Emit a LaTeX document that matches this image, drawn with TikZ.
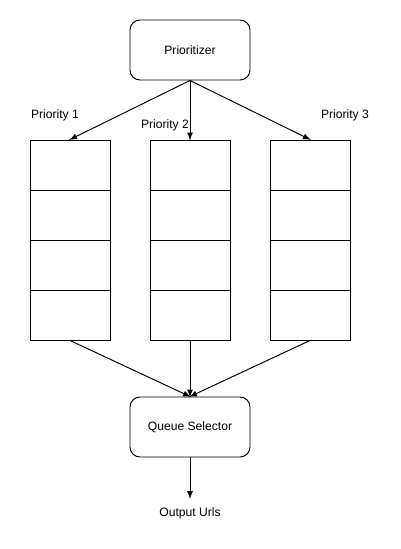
\documentclass[tikz,border=0pt]{standalone}
\usepackage{fontspec}
\setmainfont{Liberation Sans}
\usetikzlibrary{arrows}
\usetikzlibrary{positioning}

\begin{document}
\begin{tikzpicture}[
  > = latex,
  line width=0.55pt,
  every node/.style = {font=\fontsize{6.9}{8}\selectfont},
  roundbox/.style = {draw,rounded corners=0.2cm,minimum width=2.4cm,minimum height=1.2cm,inner sep=0pt},
  cell/.style = {draw,minimum width=1.6cm,minimum height=1cm,inner sep=0pt},
  flow/.style = {->,line width=0.55pt,shorten >=-0.5pt}
  ]
	\useasboundingbox (0,0) rectangle (8,-10.98);

	\node[roundbox] (prio) at (3.8,-1.0) {Prioritizer};
	\node[roundbox] (sel) at (3.8,-8.54) {Queue Selector};
	\node[inner sep=5pt] (out) at (3.8,-10.26) {Output Urls};

	% queues, four cells each
	\foreach \q/\x in {1/1.4,2/3.8,3/6.2} {
	  \node[cell] (q\q a) at (\x,-3.3) {};
	  \node[cell] (q\q b) at (\x,-4.3) {};
	  \node[cell] (q\q c) at (\x,-5.3) {};
	  \node[cell] (q\q d) at (\x,-6.3) {};
	}

	\node (lab1) at (1.1,-2.3) {Priority 1};
	\node (lab2) at (3.3,-2.5) {Priority 2};
	\node (lab3) at (6.9,-2.3) {Priority 3};

	\draw[flow] (prio.south) -- (q1a.north);
	\draw[flow] (prio.south) -- (q2a.north);
	\draw[flow] (prio.south) -- (q3a.north);

	\draw[flow] (q1d.south) -- (sel.north);
	\draw[flow] (q2d.south) -- (sel.north);
	\draw[flow] (q3d.south) -- (sel.north);

	\draw[flow] (sel.south) -- (out.north);

\end{tikzpicture}
\end{document}
